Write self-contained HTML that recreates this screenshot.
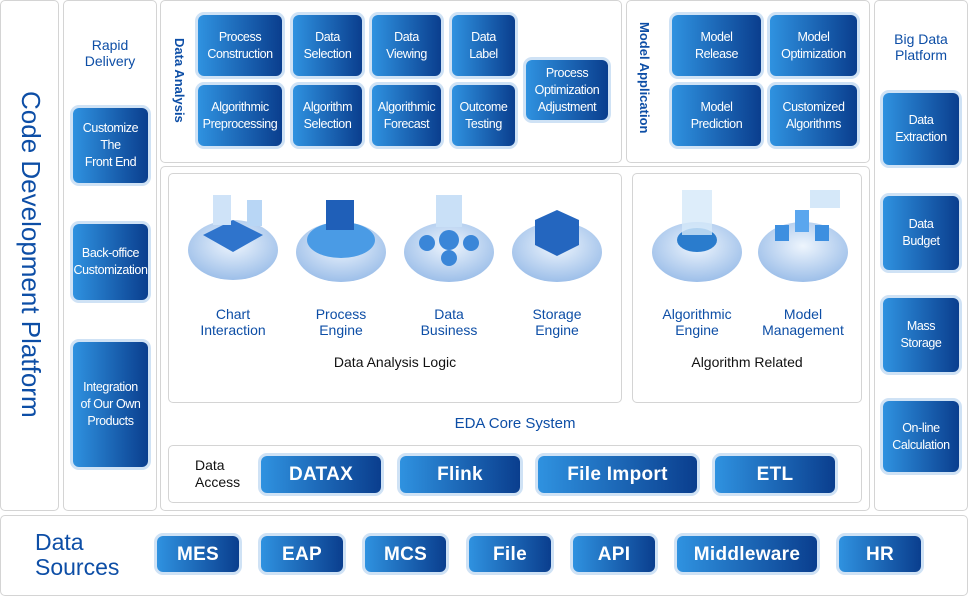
<!DOCTYPE html>
<html><head><meta charset="utf-8"><style>
*{margin:0;padding:0;box-sizing:border-box}
body{width:968px;height:596px;background:#fff;position:relative;overflow:hidden;font-family:"Liberation Sans",sans-serif}
.p{position:absolute;border:1.5px solid #d4d4d4;border-radius:5px;background:#fff}
.b{position:absolute;display:flex;align-items:center;justify-content:center;text-align:center;color:#fff;font-size:12.5px;line-height:17px;border-radius:6px;background:linear-gradient(90deg,#2f92e0,#0a3e8e);box-shadow:0 0 0 3px #cfe2f5;letter-spacing:-0.4px}
.big{font-size:19px;font-weight:bold;letter-spacing:0.3px}
.t{position:absolute;text-align:center;color:#0d4ea6;font-size:14px;line-height:16px}
.k{position:absolute;text-align:center;color:#111;font-size:14px;line-height:17px}
.v{position:absolute;color:#0d4ea6;white-space:nowrap;transform-origin:0 0;transform:rotate(90deg)}
</style></head><body>
<div class="p" style="left:0;top:0;width:59px;height:511px"></div>
<div class="v" style="left:46px;top:91px;font-size:26px">Code Development Platform</div>
<div class="p" style="left:63px;top:0;width:94px;height:511px"></div>
<div class="t" style="left:63px;top:37px;width:94px">Rapid<br>Delivery</div>
<div class="b" style="left:73px;top:108px;width:75px;height:75px">Customize<br>The<br>Front End</div>
<div class="b" style="left:73px;top:224px;width:75px;height:76px">Back-office<br>Customization</div>
<div class="b" style="left:73px;top:342px;width:75px;height:125px">Integration<br>of Our Own<br>Products</div>

<div class="p" style="left:160px;top:0;width:462px;height:163px"></div>
<div class="v" style="left:187px;top:38px;font-size:13px;font-weight:bold">Data Analysis</div>
<div class="b" style="left:198px;top:15px;width:84px;height:61px">Process<br>Construction</div>
<div class="b" style="left:293px;top:15px;width:69px;height:61px">Data<br>Selection</div>
<div class="b" style="left:372px;top:15px;width:69px;height:61px">Data<br>Viewing</div>
<div class="b" style="left:452px;top:15px;width:63px;height:61px">Data<br>Label</div>
<div class="b" style="left:198px;top:85px;width:84px;height:61px">Algorithmic<br>Preprocessing</div>
<div class="b" style="left:293px;top:85px;width:69px;height:61px">Algorithm<br>Selection</div>
<div class="b" style="left:372px;top:85px;width:69px;height:61px">Algorithmic<br>Forecast</div>
<div class="b" style="left:452px;top:85px;width:63px;height:61px">Outcome<br>Testing</div>
<div class="b" style="left:526px;top:60px;width:82px;height:60px">Process<br>Optimization<br>Adjustment</div>

<div class="p" style="left:626px;top:0;width:244px;height:163px"></div>
<div class="v" style="left:652px;top:22px;font-size:13px;font-weight:bold">Model Application</div>
<div class="b" style="left:672px;top:15px;width:89px;height:61px">Model<br>Release</div>
<div class="b" style="left:770px;top:15px;width:87px;height:61px">Model<br>Optimization</div>
<div class="b" style="left:672px;top:85px;width:89px;height:61px">Model<br>Prediction</div>
<div class="b" style="left:770px;top:85px;width:87px;height:61px">Customized<br>Algorithms</div>

<div class="p" style="left:874px;top:0;width:94px;height:511px"></div>
<div class="t" style="left:874px;top:31px;width:94px">Big Data<br>Platform</div>
<div class="b" style="left:883px;top:93px;width:76px;height:72px">Data<br>Extraction</div>
<div class="b" style="left:883px;top:196px;width:76px;height:74px">Data<br>Budget</div>
<div class="b" style="left:883px;top:298px;width:76px;height:74px">Mass<br>Storage</div>
<div class="b" style="left:883px;top:401px;width:76px;height:71px">On-line<br>Calculation</div>

<div class="p" style="left:160px;top:166px;width:710px;height:345px"></div>
<div class="p" style="left:168px;top:173px;width:454px;height:230px;border-width:1px"></div>
<div class="p" style="left:632px;top:173px;width:230px;height:230px;border-width:1px"></div>
<svg style="position:absolute;left:0;top:0" width="968" height="300">
<defs><radialGradient id="g" cx="50%" cy="40%" r="60%"><stop offset="0" stop-color="#eef5fd"/><stop offset="1" stop-color="#9dbfe9"/></radialGradient>
<linearGradient id="d" x1="0" x2="1"><stop offset="0" stop-color="#3d8fe0"/><stop offset="1" stop-color="#1a4fa8"/></linearGradient></defs>
<g>
<ellipse cx="233" cy="250" rx="45" ry="30" fill="url(#g)"/><path d="M203 235 L233 220 L263 235 L233 252 Z" fill="#2f74cc"/><rect x="213" y="195" width="18" height="30" fill="#cfe3f8"/><rect x="247" y="200" width="15" height="26" fill="#b8d6f5"/>
<ellipse cx="341" cy="252" rx="45" ry="30" fill="url(#g)"/><ellipse cx="341" cy="240" rx="34" ry="18" fill="#4a9be5"/><rect x="326" y="200" width="28" height="30" fill="#1f5fb8"/>
<ellipse cx="449" cy="252" rx="45" ry="30" fill="url(#g)"/><circle cx="449" cy="240" r="10" fill="#3a86d8"/><circle cx="427" cy="243" r="8" fill="#3a86d8"/><circle cx="471" cy="243" r="8" fill="#3a86d8"/><circle cx="449" cy="258" r="8" fill="#3a86d8"/><rect x="436" y="195" width="26" height="32" fill="#c9e0f7"/>
<ellipse cx="557" cy="252" rx="45" ry="30" fill="url(#g)"/><path d="M535 220 L557 210 L579 220 L579 245 L557 256 L535 245 Z" fill="#2466bf"/>
<ellipse cx="697" cy="252" rx="45" ry="30" fill="url(#g)"/><ellipse cx="697" cy="240" rx="20" ry="12" fill="#2a7ccd"/><rect x="682" y="190" width="30" height="45" fill="#d5e8f9" opacity=".8"/>
<ellipse cx="803" cy="252" rx="45" ry="30" fill="url(#g)"/><rect x="775" y="225" width="14" height="16" fill="#3d8fe0"/><rect x="815" y="225" width="14" height="16" fill="#3d8fe0"/><rect x="795" y="210" width="14" height="22" fill="#5aa6ee"/><rect x="810" y="190" width="30" height="18" fill="#d5e8f9"/>
</g></svg>
<div class="t" style="left:183px;top:306px;width:100px">Chart<br>Interaction</div>
<div class="t" style="left:291px;top:306px;width:100px">Process<br>Engine</div>
<div class="t" style="left:399px;top:306px;width:100px">Data<br>Business</div>
<div class="t" style="left:507px;top:306px;width:100px">Storage<br>Engine</div>
<div class="t" style="left:647px;top:306px;width:100px">Algorithmic<br>Engine</div>
<div class="t" style="left:748px;top:306px;width:110px">Model<br>Management</div>
<div class="k" style="left:168px;top:354px;width:454px">Data Analysis Logic</div>
<div class="k" style="left:632px;top:354px;width:230px">Algorithm Related</div>
<div class="t" style="left:160px;top:416px;width:710px;font-size:15px">EDA Core System</div>
<div class="p" style="left:168px;top:445px;width:694px;height:58px;border-width:1px"></div>
<div class="k" style="left:195px;top:457px;width:50px;text-align:left;line-height:17px">Data<br>Access</div>
<div class="b big" style="left:261px;top:456px;width:120px;height:37px">DATAX</div>
<div class="b big" style="left:400px;top:456px;width:120px;height:37px">Flink</div>
<div class="b big" style="left:538px;top:456px;width:159px;height:37px">File Import</div>
<div class="b big" style="left:715px;top:456px;width:120px;height:37px">ETL</div>

<div class="p" style="left:0;top:515px;width:968px;height:81px"></div>
<div class="t" style="left:35px;top:530px;font-size:23px;line-height:25px;text-align:left">Data<br>Sources</div>
<div class="b big" style="left:157px;top:536px;width:82px;height:36px">MES</div>
<div class="b big" style="left:261px;top:536px;width:82px;height:36px">EAP</div>
<div class="b big" style="left:365px;top:536px;width:81px;height:36px">MCS</div>
<div class="b big" style="left:469px;top:536px;width:82px;height:36px">File</div>
<div class="b big" style="left:573px;top:536px;width:82px;height:36px">API</div>
<div class="b big" style="left:677px;top:536px;width:140px;height:36px">Middleware</div>
<div class="b big" style="left:839px;top:536px;width:82px;height:36px">HR</div>
</body></html>
